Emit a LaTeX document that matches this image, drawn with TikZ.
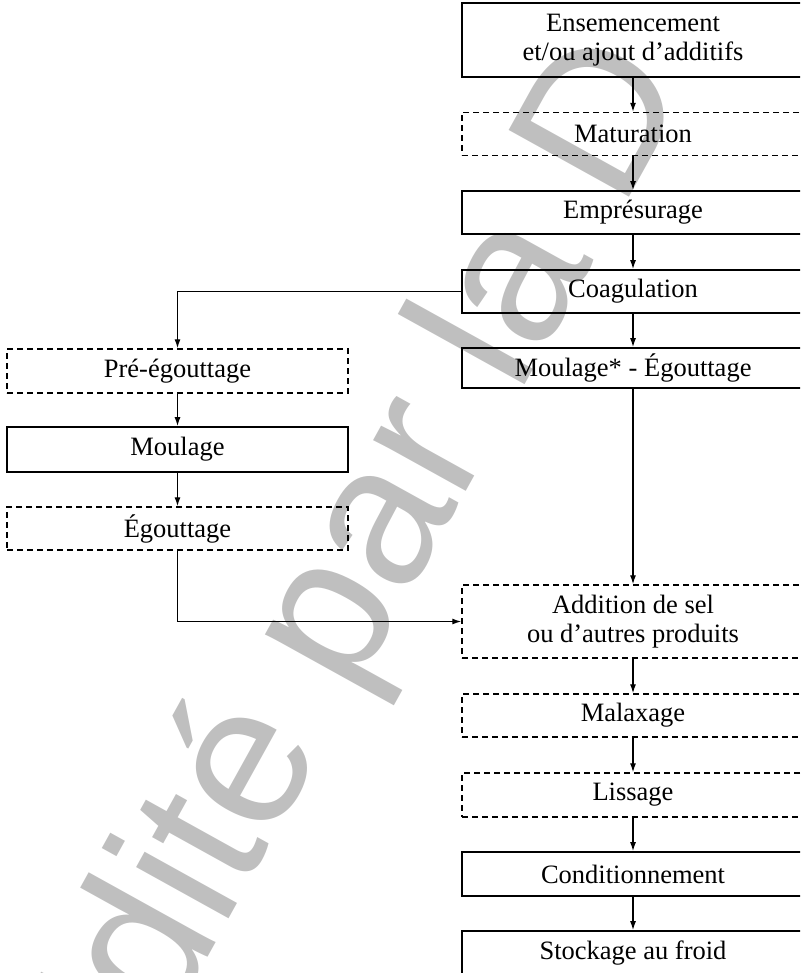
\documentclass[tikz,border=0pt]{standalone}
\usepackage{fontspec}
\setmainfont{Liberation Serif}
\newfontfamily\wmfont{Liberation Sans}
\usetikzlibrary{arrows.meta}

\tikzset{
  stage/.style={draw=black, line width=1.7pt, inner sep=0pt,
    minimum height=43pt, align=center,
    font=\fontsize{26.5}{29}\selectfont},
  optstage/.style={stage, dashed, dash pattern=on 6pt off 4pt, line width=1.4pt},
  rightcol/.style={minimum width=342pt},
  leftcol/.style={minimum width=341pt},
  flow/.style={draw=black, line width=1.3pt, -{Latex[length=9pt,width=6pt]}},
  wmark/.style={text=black!25, inner sep=0pt, font=\wmfont\fontsize{200}{200}\selectfont}
}

\begin{document}
\begin{tikzpicture}[x=1pt,y=-1pt]
  \path[use as bounding box, clip] (0,0) rectangle (800,973);

  % diagonal watermark behind the chart
  \node[wmark, rotate=61, anchor=base west] (wm) at (103.6,1144.9) {Édité par la D};

  % main line (right column)
  \node[stage, rightcol, minimum height=74pt] (ens) at (633,40) {Ensemencement\\et/ou ajout d’additifs};
  \node[optstage, rightcol] (mat) at (633,134) {Maturation};
  \node[stage, rightcol] (emp) at (633,212.5) {Emprésurage};
  \node[stage, rightcol] (coag) at (633,291.5) {Coagulation};
  \node[stage, rightcol, minimum height=40pt] (moul) at (633,368) {Moulage* - Égouttage};
  \node[optstage, rightcol, minimum height=73pt] (add) at (633,621.5) {Addition de sel\\ou d’autres produits};
  \node[optstage, rightcol] (mal) at (633,715.5) {Malaxage};
  \node[optstage, rightcol, minimum height=44pt] (lis) at (633,795) {Lissage};
  \node[stage, rightcol, minimum height=44pt] (cond) at (633,874) {Conditionnement};
  \node[stage, rightcol, minimum height=44pt] (stock) at (633,953) {Stockage au froid};

  % side line (left column)
  \node[optstage, leftcol, minimum height=44pt] (pre) at (177.5,371) {Pré-égouttage};
  \node[stage, leftcol, minimum height=45pt] (mou) at (177.5,449.5) {Moulage};
  \node[optstage, leftcol] (ego) at (177.5,528.5) {Égouttage};

  % connectors
  \draw[flow] (ens) -- (mat);
  \draw[flow] (mat) -- (emp);
  \draw[flow] (emp) -- (coag);
  \draw[flow] (coag) -- (moul);
  \draw[flow] (moul) -- (add);
  \draw[flow] (add) -- (mal);
  \draw[flow] (mal) -- (lis);
  \draw[flow] (lis) -- (cond);
  \draw[flow] (cond) -- (stock);
  \draw[flow] (coag.west) -| (pre.north);
  \draw[flow] (pre) -- (mou);
  \draw[flow] (mou) -- (ego);
  \draw[flow] (ego.south) |- (add.west);
\end{tikzpicture}
\end{document}
